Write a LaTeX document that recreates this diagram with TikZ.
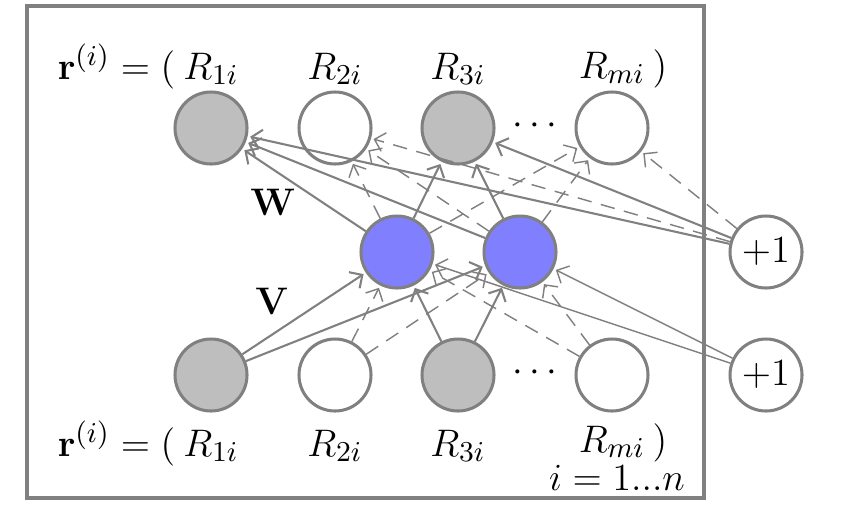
\documentclass[tikz,border=0pt]{standalone}
\usetikzlibrary{arrows.meta}
\definecolor{edgegray}{RGB}{128,128,128}
\definecolor{fillgray}{RGB}{190,190,190}
\definecolor{hidblue}{RGB}{128,128,255}
\begin{document}
\begin{tikzpicture}[x=0.3125pt,y=-0.3125pt,
  font=\fontsize{13}{15}\selectfont,
  unit/.style={circle,draw=edgegray,line width=0.95pt,minimum size=22.5pt,inner sep=0pt},
  obs/.style={unit,fill=fillgray},
  miss/.style={unit,fill=white},
  hid/.style={unit,fill=hidblue},
  bias/.style={unit,fill=white},
  lbl/.style={inner sep=0pt,anchor=base},
  sol/.style={draw=edgegray,line width=0.65pt,-{Straight Barb[length=3pt,width=6pt]},shorten >=0.8pt},
  thinsol/.style={sol,line width=0.45pt},
  das/.style={sol,line width=0.45pt,dash pattern=on 4.5pt off 3pt}]
\useasboundingbox (0,0) rectangle (865,509);
% plate
\draw[edgegray,line width=0.95pt] (27,6) rectangle (704,498);
% output row
\node[obs]  (o1) at (211,128) {};
\node[miss] (o2) at (335,128) {};
\node[obs]  (o3) at (458,128) {};
\node[miss] (o4) at (612,128) {};
\node (odots) at (535,126) {$\cdots$};
% hidden
\node[hid] (h1) at (397,252) {};
\node[hid] (h2) at (520,252) {};
% input row
\node[obs]  (i1) at (211,375) {};
\node[miss] (i2) at (335,375) {};
\node[obs]  (i3) at (458,375) {};
\node[miss] (i4) at (612,375) {};
\node (idots) at (535,373) {$\cdots$};
% biases
\node[bias] (b1) at (766,252) {$+1$};
\node[bias] (b2) at (766,375) {$+1$};
% labels top
\node[lbl,anchor=base east] (tl) at (176,79) {$\mathbf{r}^{(i)} = ($};
\node[lbl] (t1) at (211,79) {$R_{1i}$};
\node[lbl] (t2) at (335,79) {$R_{2i}$};
\node[lbl] (t3) at (458,79) {$R_{3i}$};
\node[lbl] (t4) at (612,78) {$R_{mi}$};
\node[lbl] (tr) at (660,78) {$)$};
% labels bottom
\node[lbl,anchor=base east] (bl) at (176,456) {$\mathbf{r}^{(i)} = ($};
\node[lbl] (u1) at (211,456) {$R_{1i}$};
\node[lbl] (u2) at (335,456) {$R_{2i}$};
\node[lbl] (u3) at (458,456) {$R_{3i}$};
\node[lbl] (u4) at (612,452) {$R_{mi}$};
\node[lbl] (ur) at (660,452) {$)$};
\node[lbl] (idx) at (617,490) {$i = 1...n$};
\node (W) at (273,202) {$\mathbf{W}$};
\node (V) at (272,301) {$\mathbf{V}$};
% W layer
\foreach \s in {h1,h2,b1}{
  \draw[sol] (\s) -- (o1);
  \draw[das] (\s) -- (o2);
  \draw[sol] (\s) -- (o3);
  \draw[das] (\s) -- (o4);
}
% V layer
\foreach \t in {h1,h2}{
  \draw[sol] (i1) -- (\t);
  \draw[das] (i2) -- (\t);
  \draw[sol] (i3) -- (\t);
  \draw[das] (i4) -- (\t);
  \draw[thinsol] (b2) -- (\t);
}
\end{tikzpicture}
\end{document}
